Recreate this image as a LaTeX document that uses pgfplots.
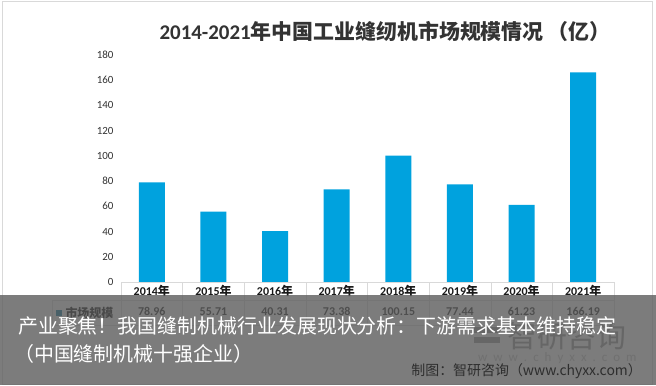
\documentclass[border=0pt]{standalone}
\usepackage{fontspec}
\usepackage{pgfplots}
\pgfplotsset{compat=1.18}
\setmainfont{Carlito}
\newfontfamily\cjk{Noto Sans CJK SC}
\definecolor{barblue}{RGB}{0,162,222}
\definecolor{gridc}{RGB}{217,217,217}
\definecolor{ovl}{RGB}{92,92,92}
\newcommand{\yr}[1]{\textbf{#1}{\cjk\bfseries 年}}
\newcommand{\tl}[2]{\yr{#1}\\[7bp]\textbf{#2}}
\begin{document}
\begin{tikzpicture}[x=1bp,y=1bp]
\useasboundingbox (0,0) rectangle (656,385);
\fill[white] (0,0) rectangle (656,385);
\draw[gridc] (2.5,1) rectangle (652,384);
\node[font=\fontsize{21}{23}\selectfont\bfseries, text=black!80] at (385,354) {2014-2021{\cjk\bfseries 年中国工业缝纫机市场规模情况\hspace{4bp}（亿）}};
\begin{axis}[
  at={(121bp,103bp)}, anchor=south west,
  scale only axis, width=493bp, height=227bp,
  xmin=-0.5, xmax=7.5, ymin=0, ymax=180,
  ytick={0,20,...,180},
  xtick={0,...,7},
  xticklabels={{\tl{2014}{78.96}},{\tl{2015}{55.71}},{\tl{2016}{40.31}},{\tl{2017}{73.38}},{\tl{2018}{100.15}},{\tl{2019}{77.44}},{\tl{2020}{61.23}},{\tl{2021}{166.19}}},
  xticklabel style={align=center, font=\fontsize{12}{13}\selectfont, text=black!90},
  yticklabel style={font=\fontsize{11}{13}\selectfont, text=black!80, xshift=-4bp},
  /pgf/number format/assume math mode=true,
  axis line style={draw=none},
  tick style={draw=none},
  clip=false,
]
\addplot[ybar, bar width=26bp, fill=barblue, draw=none] coordinates {
(0,78.96) (1,55.71) (2,40.31) (3,73.38) (4,100.15) (5,77.44) (6,61.23) (7,166.19)};
\end{axis}
% data table grid
\draw[gridc] (121,103) -- (614,103);
\draw[gridc] (52,85) -- (614,85);
\draw[gridc] (52,60) -- (614,60);
\draw[gridc] (52,85) -- (52,60);
\foreach \k in {0,...,8} { \draw[gridc] ({121+61.625*\k},103) -- ({121+61.625*\k},60); }
\fill[barblue!70!black] (56,69) rectangle (62,75);
\node[anchor=west, font=\cjk\fontsize{12}{13}\selectfont\bfseries] at (62,72) {市场规模};
% overlay
\fill[ovl, opacity=0.8] (0,0) rectangle (656,90);
\node[anchor=west, text=black!60, font=\cjk\fontsize{30}{32}\selectfont, inner sep=0] at (507,49) {智研咨询};
\fill[black!60] (474,42) rectangle (500,48);
\fill[black!60] (474,52) rectangle (500,58);
\node[anchor=west, text=black!56, font=\fontsize{13}{14}\selectfont, inner sep=0] at (478,27) {w\hspace{6bp}w\hspace{6bp}w\hspace{6bp}.\hspace{6bp}c\hspace{6bp}h\hspace{6bp}y\hspace{6bp}x\hspace{6bp}x\hspace{6bp}.\hspace{6bp}c\hspace{6bp}o\hspace{6bp}m};
\node[anchor=west, text=white, font=\cjk\fontsize{20}{22}\selectfont, inner sep=0] at (18,59) {产业聚焦！我国缝制机械行业发展现状分析：下游需求基本维持稳定};
\node[anchor=west, text=white, font=\cjk\fontsize{20}{22}\selectfont, inner sep=0] at (14,31) {（中国缝制机械十强企业）};
\node[anchor=east, text=black!82, font=\cjk\fontsize{14}{16}\selectfont, inner sep=0] at (642,14) {制图：智研咨询（www.chyxx.com）};
\end{tikzpicture}
\end{document}
